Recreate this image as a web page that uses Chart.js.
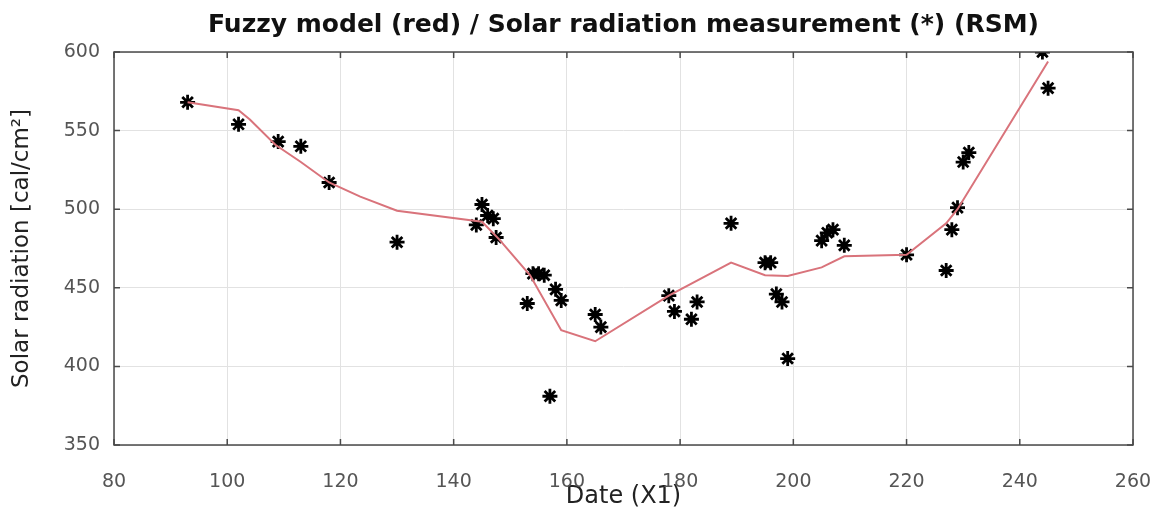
<!DOCTYPE html>
<html>
<head>
<meta charset="utf-8">
<script src="https://cdn.jsdelivr.net/npm/chart.js@4"></script>
<style>
  html, body { margin: 0; padding: 0; background: #fff; }
  #wrap { width: 1157px; height: 514px; }
</style>
</head>
<body>
<div id="wrap"><canvas id="chart"></canvas></div>
<script>
// measured solar radiation (*)
const measDays = [93, 102, 109, 113, 118, 130, 144, 145, 146, 147, 147.5, 153, 154, 155, 156, 157, 158, 159, 165, 166,
  178, 179, 182, 183, 189, 195, 196, 197, 198, 199, 205, 206, 207, 209, 220, 227, 228, 229, 230, 231, 244, 245];
const measValues = [568, 554, 543, 540, 517, 479, 490, 503, 496, 494, 482, 440, 459, 459, 458, 381, 449, 442, 433, 425,
  445, 435, 430, 441, 491, 466, 466, 446, 441, 405, 480, 485, 487, 477, 471, 461, 487, 501, 530, 536, 600, 577];

// fuzzy model (red)
const modelDays = [93, 102, 104, 108.5, 113, 118, 123.5, 130, 145, 148, 153.5, 159, 165, 178, 189, 195, 199, 205, 209, 220, 227, 229, 245];
const modelValues = [568, 563, 557, 541, 530, 517, 508, 499, 492, 481, 458, 423, 416, 445, 466, 458, 457.5, 463, 470, 471, 491, 500, 594];

const xTicks = [80, 100, 120, 140, 160, 180, 200, 220, 240, 260];
const yTicks = [350, 400, 450, 500, 550, 600];

const toPoints = (xs, ys) => xs.map((x, i) => ({ x: x, y: ys[i] }));

// frame + inward ticks, matlab style
const framePlugin = {
  id: "frame",
  afterDraw(chart) {
    const { ctx, chartArea: a, scales } = chart;
    ctx.save();
    ctx.strokeStyle = "#4a4a4a";
    ctx.lineWidth = 1.5;
    ctx.beginPath();
    xTicks.forEach(v => {
      const px = scales.x.getPixelForValue(v);
      ctx.moveTo(px, a.bottom); ctx.lineTo(px, a.bottom - 6);
      ctx.moveTo(px, a.top); ctx.lineTo(px, a.top + 6);
    });
    yTicks.forEach(v => {
      const py = scales.y.getPixelForValue(v);
      ctx.moveTo(a.left, py); ctx.lineTo(a.left + 6, py);
      ctx.moveTo(a.right, py); ctx.lineTo(a.right - 6, py);
    });
    ctx.stroke();
    ctx.strokeRect(a.left, a.top, a.right - a.left, a.bottom - a.top);
    ctx.restore();
  }
};

new Chart(document.getElementById("chart"), {
  type: "scatter",
  data: {
    datasets: [
      {
        label: "Fuzzy model",
        data: toPoints(modelDays, modelValues),
        showLine: true,
        borderColor: "#d9737b",
        borderWidth: 2,
        pointRadius: 0,
        order: 0
      },
      {
        label: "RSM",
        data: toPoints(measDays, measValues),
        pointStyle: "star",
        pointRadius: 7.5,
        borderColor: "#000",
        backgroundColor: "#000",
        borderWidth: 2.8,
        clip: 0,
        order: 1
      }
    ]
  },
  options: {
    responsive: true,
    maintainAspectRatio: false,
    animation: false,
    layout: { padding: { left: 0, right: 24, top: 0, bottom: 0 } },
    plugins: {
      legend: { display: false },
      tooltip: { enabled: false },
      title: {
        display: true,
        fullSize: false,
        text: "Fuzzy model (red) / Solar radiation measurement (*) (RSM)",
        color: "#111",
        font: { family: "DejaVu Sans", size: 25, weight: "bold" },
        padding: { top: 10, bottom: 12 }
      }
    },
    scales: {
      x: {
        type: "linear",
        min: 80,
        max: 260,
        afterBuildTicks: s => { s.ticks = xTicks.map(v => ({ value: v })); },
        afterFit: s => { s.height = 69; },
        grid: { color: "#e2e2e2", lineWidth: 1, drawTicks: true, tickLength: 22, tickColor: "rgba(0,0,0,0)" },
        border: { display: false },
        ticks: {
          color: "#555",
          padding: 4,
          font: { family: "DejaVu Sans", size: 19 }
        },
        title: {
          display: true,
          text: "Date (X1)",
          color: "#222",
          font: { family: "DejaVu Sans", size: 24 },
          padding: { top: 0, bottom: 3 }
        }
      },
      y: {
        min: 350,
        max: 600,
        afterBuildTicks: s => { s.ticks = yTicks.map(v => ({ value: v })); },
        afterFit: s => { s.width = 114; },
        grid: { color: "#e2e2e2", lineWidth: 1, drawTicks: true, tickLength: 10, tickColor: "rgba(0,0,0,0)" },
        border: { display: false },
        ticks: {
          color: "#555",
          padding: 4,
          font: { family: "DejaVu Sans", size: 19 }
        },
        title: {
          display: true,
          text: "Solar radiation [cal/cm²]",
          color: "#222",
          font: { family: "DejaVu Sans", size: 23 },
          padding: { top: 8, bottom: 0 }
        }
      }
    }
  },
  plugins: [framePlugin]
});
</script>
</body>
</html>
